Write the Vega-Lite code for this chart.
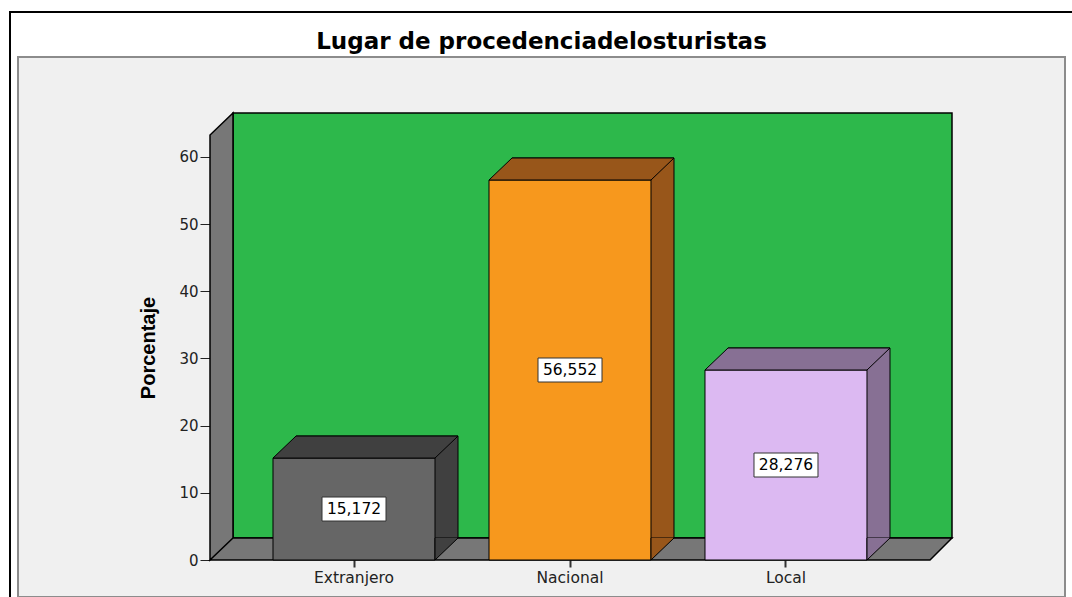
{
  "$schema": "https://vega.github.io/schema/vega-lite/v6.json",
  "autosize": "none",
  "width": 1047,
  "height": 540,
  "padding": {"left": 18, "top": 57, "right": 7, "bottom": 0},
  "background": "white",
  "title": {
    "text": "Lugar de procedenciadelosturistas",
    "font": "DejaVu Sans",
    "fontSize": 23,
    "fontWeight": "bold",
    "color": "black",
    "anchor": "middle",
    "frame": "group",
    "offset": -43
  },
  "config": {
    "view": {"fill": "#f0f0f0", "stroke": "#8c8c8c", "strokeWidth": 2},
    "locale": {"number": {"decimal": ",", "thousands": ".", "grouping": [3], "currency": ["", " €"]}}
  },
  "data": {
    "values": [
      {"origen": "Extranjero", "porcentaje": 15.172},
      {"origen": "Nacional", "porcentaje": 56.552},
      {"origen": "Local", "porcentaje": 28.276}
    ]
  },
  "layer": [
    {
      "layer": [
        {
          "data": {"values": [{}]},
          "mark": {"type": "rect", "fill": null, "stroke": "black", "strokeWidth": 2, "xOffset": -8, "yOffset": -45, "x2Offset": 40, "y2Offset": 40, "clip": false},
          "encoding": {
            "x": {"value": 0},
            "x2": {"value": "width"},
            "y": {"value": 0},
            "y2": {"value": "height"}
          }
        },
        {
          "data": {"values": [{}]},
          "mark": {"type": "point", "shape": "M-337,-22 L382,-22 L382,-447 L-337,-447 Z", "size": 4, "filled": true, "opacity": 1, "fill": "#2db84b", "stroke": "black", "strokeWidth": 1.5},
          "encoding": {
            "x": {"datum": "Nacional"},
            "y": {"datum": 0}
          }
        },
        {
          "data": {"values": [{}]},
          "mark": {"type": "point", "shape": "M-360,0 L-337,-22 L-337,-447 L-360,-425 Z M-360,0 L360,0 L382,-22 L-337,-22 Z", "size": 4, "filled": true, "opacity": 1, "fill": "#777777", "stroke": "black", "strokeWidth": 1.5},
          "encoding": {
            "x": {"datum": "Nacional"},
            "y": {"datum": 0}
          }
        },
        {
          "mark": {"type": "bar", "stroke": "black", "strokeWidth": 1, "xOffset": 23, "x2Offset": 23, "yOffset": -22, "y2Offset": -22, "clip": false},
          "encoding": {
            "x": {"field": "origen", "type": "nominal"},
            "y": {"field": "porcentaje", "type": "quantitative"},
            "fill": {"field": "origen", "type": "nominal", "legend": null,
              "scale": {"domain": ["Extranjero", "Nacional", "Local"], "range": ["#404040", "#98561a", "#877094"]}}
          }
        },
        {
          "mark": {"type": "bar", "stroke": "black", "strokeWidth": 1},
          "encoding": {
            "x": {
              "field": "origen", "type": "nominal",
              "scale": {"domain": ["Extranjero", "Nacional", "Local"], "range": [192, 912], "paddingInner": 0.25, "paddingOuter": 0.2917},
              "axis": {
                "title": null, "domain": false, "labelAngle": 0,
                "labelAlign": "center", "labelBaseline": "top",
                "tickSize": 7, "tickWidth": 2, "tickColor": "#333333",
                "labelFont": "DejaVu Sans", "labelFontSize": 15.5, "labelColor": "#222222",
                "labelPadding": 3, "offset": -37, "grid": false
              }
            },
            "y": {
              "field": "porcentaje", "type": "quantitative",
              "scale": {"domain": [0, 63.25], "range": [503, 78], "nice": false, "zero": true},
              "axis": {
                "title": "Porcentaje", "values": [0, 10, 20, 30, 40, 50, 60],
                "domain": false, "grid": false,
                "tickSize": 10, "tickColor": "#222222", "tickWidth": 1,
                "labelFont": "DejaVu Sans", "labelFontSize": 15, "labelColor": "#222222", "labelPadding": 2,
                "titleFont": "Liberation Sans", "titleFontSize": 20, "titleFontWeight": "bold", "titleColor": "black",
                "titlePadding": 20, "offset": -192
              }
            },
            "color": {"field": "origen", "type": "nominal", "legend": null,
              "scale": {"domain": ["Extranjero", "Nacional", "Local"], "range": ["#666666", "#f7981d", "#dcb9f2"]}}
          }
        },
        {
          "mark": {"type": "point", "shape": "M-81,0 L81,0 L104,-22 L-58,-22 Z", "size": 4, "filled": true, "opacity": 1, "stroke": "black", "strokeWidth": 1},
          "encoding": {
            "x": {"field": "origen", "type": "nominal"},
            "y": {"field": "porcentaje", "type": "quantitative"},
            "fill": {"field": "origen", "type": "nominal", "legend": null}
          }
        },
        {
          "mark": {"type": "point", "shape": "M104,-22 L81,0 L81,-22", "size": 4, "filled": true, "opacity": 1, "stroke": "black", "strokeWidth": 1},
          "encoding": {
            "x": {"field": "origen", "type": "nominal"},
            "y": {"datum": 0},
            "fill": {"field": "origen", "type": "nominal", "legend": null}
          }
        }
      ]
    },
    {
      "encoding": {
        "x": {"field": "origen", "type": "nominal"},
        "y": {"field": "porcentaje", "type": "quantitative", "axis": null,
          "scale": {"domain": [0, 126.5], "range": [503, 78], "nice": false, "zero": true}}
      },
      "layer": [
        {
          "mark": {"type": "point", "shape": "M-32,-12 L32,-12 L32,12 L-32,12 Z", "size": 4, "filled": true, "opacity": 1, "fill": "white", "stroke": "#333333", "strokeWidth": 1}
        },
        {
          "mark": {"type": "text", "font": "DejaVu Sans", "fontSize": 15.5, "color": "black", "align": "center", "baseline": "middle"},
          "encoding": {"text": {"field": "porcentaje", "type": "quantitative", "format": ".3f"}}
        }
      ]
    }
  ],
  "resolve": {"scale": {"y": "independent"}}
}
